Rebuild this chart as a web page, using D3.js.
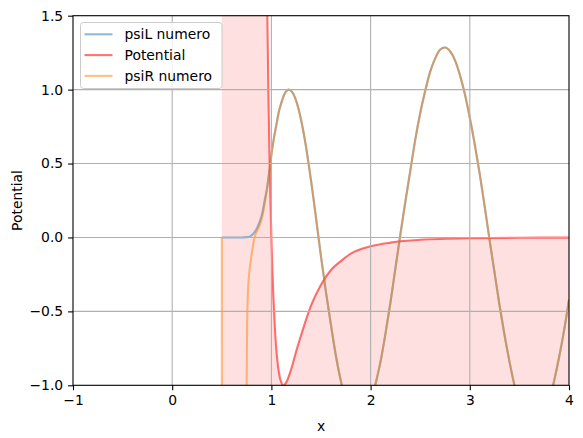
<!DOCTYPE html>
<html>
<head>
<meta charset="utf-8">
<script src="https://cdn.jsdelivr.net/npm/d3@7"></script>
<style>
    body { margin: 0; background: white; }
    text { font-family: "DejaVu Sans", sans-serif; }
</style>
</head>
<body>
<div id="chart"></div>
<script>
// left solution (blue)
var xL = [0.5, 0.6, 0.7, 0.75, 0.78, 0.8, 0.83, 0.86, 0.885, 0.91, 0.935, 0.955, 0.97, 0.986,
    1.0, 1.025, 1.05, 1.075, 1.1, 1.125, 1.15, 1.175, 1.2, 1.225, 1.25, 1.275, 1.3, 1.325, 1.35,
    1.375, 1.4, 1.425, 1.45, 1.475, 1.5, 1.55, 1.6, 1.65, 1.7, 1.75, 1.8, 1.85, 1.9, 1.95, 2.0,
    2.05, 2.1, 2.15, 2.2, 2.25, 2.3, 2.35, 2.4, 2.45, 2.5, 2.55, 2.6, 2.65, 2.7, 2.75, 2.8, 2.85,
    2.9, 2.95, 3.0, 3.05, 3.1, 3.15, 3.2, 3.25, 3.3, 3.35, 3.4, 3.45, 3.5, 3.55, 3.6, 3.65, 3.7,
    3.75, 3.8, 3.85, 3.9, 3.95, 4.0
];
var psiL = [0, 0, 0, 0.002, 0.005, 0.015, 0.035, 0.07, 0.11, 0.17, 0.26, 0.33, 0.40, 0.48,
    0.56, 0.67, 0.76, 0.85, 0.91, 0.96, 0.99, 1.0, 0.99, 0.966, 0.924, 0.866, 0.793, 0.707, 0.609,
    0.5, 0.383, 0.259, 0.13, 0.0, -0.13, -0.37, -0.59, -0.80, -0.97, -1.10, -1.20, -1.24, -1.245, -1.20, -1.12,
    -0.99, -0.84, -0.65, -0.44, -0.21, 0.02, 0.24, 0.45, 0.66, 0.84, 0.99, 1.12, 1.21, 1.27, 1.285, 1.26, 1.20,
    1.10, 0.97, 0.81, 0.63, 0.43, 0.21, -0.02, -0.24, -0.46, -0.66, -0.84, -1.0, -1.13, -1.22, -1.27, -1.29, -1.27,
    -1.20, -1.11, -0.97, -0.81, -0.63, -0.42
];

// right solution (orange): differs only near the wall, then follows psiL
var xRHead = [0.5, 0.503, 0.6, 0.7, 0.745, 0.75, 0.755, 0.765, 0.78, 0.8, 0.83, 0.86, 0.885, 0.91, 0.935, 0.955];
var psiRHead = [0, -6, -6, -6, -4, -1.05, -0.6, -0.35, -0.22, -0.12, 0.0, 0.05, 0.09, 0.145, 0.24, 0.32];

// potential
var xV = [0.5, 0.6, 0.7, 0.8, 0.85, 0.9, 0.93, 0.95, 0.97, 0.98, 0.99, 1.0, 1.01, 1.02, 1.035, 1.05,
    1.065, 1.08, 1.1, 1.12, 1.15, 1.2, 1.25, 1.3, 1.4, 1.5, 1.6, 1.7, 1.8, 2.0, 2.2, 2.5, 3.0, 3.5, 4.0
];
var V = [16000, 1750, 255, 43, 17.5, 6.6, 3.4, 1.96, 0.96, 0.58, 0.26, 0, -0.22, -0.4, -0.61, -0.76,
    -0.86, -0.93, -0.98, -1.0, -0.98, -0.89, -0.77, -0.66, -0.46, -0.32, -0.22, -0.16, -0.11, -0.06,
    -0.035, -0.016, -0.005, -0.002, -0.001
];

var xTicks = [-1, 0, 1, 2, 3, 4];
var yTicks = [-1, -0.5, 0, 0.5, 1, 1.5];
var labels = ['psiL numero', 'Potential', 'psiR numero'];
var colors = ['#1f77b4', '#ff0000', '#ff7f0e'];

var W = 583, H = 438;
var m = { left: 73, right: 14, top: 15.7, bottom: 52.7 };
var fs = 13.9;

var svg = d3.select('#chart').append('svg')
    .attr('width', W)
    .attr('height', H)

var x = d3.scaleLinear().domain([-1, 4]).range([m.left, W - m.right]);
var y = d3.scaleLinear().domain([-1, 1.5]).range([H - m.bottom, m.top]);

svg.append('clipPath').attr('id', 'clip')
    .append('rect')
    .attr('x', m.left).attr('y', m.top)
    .attr('width', W - m.left - m.right)
    .attr('height', H - m.top - m.bottom)

var plot = svg.append('g').attr('clip-path', 'url(#clip)')

var pot = xV.map((d, i) => [d, V[i]]);
var left = xL.map((d, i) => [d, psiL[i]]);
var right = xRHead.map((d, i) => [d, psiRHead[i]]);
xL.forEach((d, i) => {
    if (d > 0.96) right.push([d, psiL[i]])
})

// shaded region under the potential
plot.append('path')
    .datum(pot)
    .attr('fill', 'red')
    .attr('fill-opacity', 0.12)
    .attr('d', d3.area()
        .x(d => x(d[0]))
        .y0(y(-1) + 5)
        .y1(d => y(d[1]))
        .curve(d3.curveMonotoneX))

// grid
svg.append('g').selectAll('line')
    .data(xTicks.slice(1, -1))
    .enter().append('line')
    .attr('x1', d => x(d)).attr('x2', d => x(d))
    .attr('y1', m.top).attr('y2', H - m.bottom)
    .attr('stroke', '#b0b0b0').attr('stroke-width', 1.1)
svg.append('g').selectAll('line')
    .data(yTicks.slice(1, -1))
    .enter().append('line')
    .attr('y1', d => y(d)).attr('y2', d => y(d))
    .attr('x1', m.left).attr('x2', W - m.right)
    .attr('stroke', '#b0b0b0').attr('stroke-width', 1.1)

var line = d3.line()
    .x(d => x(d[0]))
    .y(d => y(d[1]))
    .curve(d3.curveMonotoneX)

var series = [left, pot, right];
series.forEach((s, i) => {
    plot.append('path')
        .datum(s)
        .attr('fill', 'none')
        .attr('stroke', colors[i])
        .attr('stroke-opacity', i == 1 ? 0.55 : 0.5)
        .attr('stroke-width', 2.1)
        .attr('d', line)
})

// axes
var xAxis = svg.append('g')
    .attr('transform', 'translate(0,' + (H - m.bottom) + ')')
    .call(d3.axisBottom(x).tickValues(xTicks).tickFormat(d3.format('d')).tickSizeOuter(0).tickSize(4.9).tickPadding(4.9))
var yAxis = svg.append('g')
    .attr('transform', 'translate(' + m.left + ',0)')
    .call(d3.axisLeft(y).tickValues(yTicks).tickFormat(d3.format('.1f')).tickSizeOuter(0).tickSize(4.9).tickPadding(4.9))

;[xAxis, yAxis].forEach(a => {
    a.select('.domain').remove()
    a.selectAll('line').attr('stroke', 'black').attr('stroke-width', 1.1)
    a.selectAll('text')
        .attr('fill', 'black')
        .style('font-family', '"DejaVu Sans", sans-serif')
        .style('font-size', fs + 'px')
})

// frame
svg.append('rect')
    .attr('x', m.left).attr('y', m.top)
    .attr('width', W - m.left - m.right)
    .attr('height', H - m.top - m.bottom)
    .attr('fill', 'none')
    .attr('stroke', 'black')
    .attr('stroke-width', 1.1)

svg.append('text')
    .attr('x', (m.left + W - m.right) / 2)
    .attr('y', 431)
    .attr('text-anchor', 'middle')
    .style('font-size', fs + 'px')
    .text('x')

svg.append('text')
    .attr('transform', 'translate(22,' + ((m.top + H - m.bottom) / 2) + ') rotate(-90)')
    .attr('text-anchor', 'middle')
    .style('font-size', fs + 'px')
    .text('Potential')

// legend
var lg = svg.append('g')
lg.append('rect')
    .attr('x', 80.5).attr('y', 22.5)
    .attr('width', 141.5).attr('height', 66)
    .attr('rx', 3)
    .attr('fill', 'white')
    .attr('fill-opacity', 0.8)
    .attr('stroke', '#cccccc')
    .attr('stroke-width', 1)
var rows = lg.selectAll('.row')
    .data(labels)
    .enter().append('g')
    .attr('class', 'row')
    .attr('transform', (d, i) => 'translate(0,' + (34.3 + i * 20.8) + ')')
rows.append('line')
    .attr('x1', 84.5).attr('x2', 112.5)
    .attr('stroke', (d, i) => colors[i])
    .attr('stroke-opacity', (d, i) => i == 1 ? 0.55 : 0.5)
    .attr('stroke-width', 2.1)
rows.append('text')
    .attr('x', 124.5)
    .attr('y', 5)
    .style('font-size', fs + 'px')
    .text(d => d)
</script>
</body>
</html>
